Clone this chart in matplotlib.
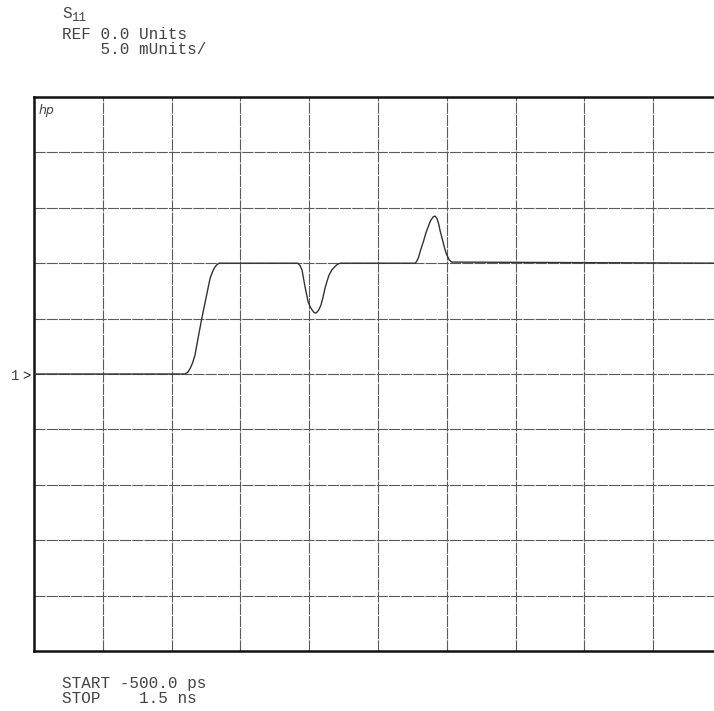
import matplotlib
matplotlib.use("Agg")
import matplotlib.pyplot as plt

# Trace: time (ps) and value (mUnits)
time_ps = [-500, -61, -53, -46, -39, -32, -23, -12, 0, 12, 20, 26, 32, 38, 267,
           273, 279, 288, 297, 303, 308, 314, 320, 327, 334, 340, 346, 352, 358,
           366, 375, 382, 390, 608, 612, 617, 624, 632, 639, 646, 653, 661, 666,
           671, 676, 680, 685, 690, 695, 700, 707, 714, 1500]
value_mu = [0.0, 0.0, 0.15, 0.5, 1.0, 1.7, 3.25, 5.05, 6.85, 8.65, 9.3, 9.65,
            9.88, 10.0, 10.0, 9.8, 9.4, 7.85, 6.5, 6.05, 5.8, 5.55, 5.5, 5.75,
            6.2, 6.9, 7.75, 8.4, 8.95, 9.4, 9.7, 9.9, 10.0, 10.0, 10.15, 10.45,
            11.2, 11.95, 12.7, 13.3, 13.85, 14.2, 14.25, 14.05, 13.6, 13.0, 12.4,
            11.8, 11.2, 10.75, 10.3, 10.1, 10.0]

start_ps = -500.0
stop_ps = 1500.0
ref_value = 0.0
scale_mu = 5.0
n_div = 10

header_lines = ["REF 0.0 Units", "    5.0 mUnits/"]
footer_lines = ["START -500.0 ps", "STOP    1.5 ns"]

W, H = 714, 711
fig = plt.figure(figsize=(W / 100, H / 100), dpi=100)
fig.patch.set_facecolor("white")

left, top, bottom = 34, 97, 651
right = 34 + 68.8 * n_div
ax = fig.add_axes([left / W, (H - bottom) / H, (right - left) / W, (bottom - top) / H])
ax.set_xlim(start_ps, stop_ps)
half = scale_mu * n_div / 2
ax.set_ylim(ref_value - half, ref_value + half)
ax.set_xticks([])
ax.set_yticks([])

step_x = (stop_ps - start_ps) / n_div
for i in range(1, n_div):
    ax.axvline(start_ps + i * step_x, color="#5a5a5a", lw=0.8, ls=(0, (10, 1.0)), zorder=1)
    ax.axhline(ref_value - half + i * scale_mu, color="#5a5a5a", lw=0.8, ls=(0, (10, 1.0)), zorder=1)

for side in ["left", "top", "bottom"]:
    ax.spines[side].set_linewidth(1.8)
    ax.spines[side].set_color("#111111")
ax.spines["right"].set_visible(False)

ax.plot(time_ps, value_mu, color="#333333", lw=1.0, zorder=3,
        solid_joinstyle="round", solid_capstyle="round")

mono = "Liberation Mono"
tc = "#444444"
fs = 11.5
fig.text(62 / W, 1 - 18 / H, "S", fontsize=fs, family=mono, color=tc)
fig.text(71 / W, 1 - 21 / H, "11", fontsize=9, family=mono, color=tc)
fig.text(62 / W, 1 - 39 / H, header_lines[0], fontsize=fs, family=mono, color=tc)
fig.text(62 / W, 1 - 54 / H, header_lines[1], fontsize=fs, family=mono, color=tc)
fig.text(62 / W, 1 - 688 / H, footer_lines[0], fontsize=fs, family=mono, color=tc)
fig.text(62 / W, 1 - 703 / H, footer_lines[1], fontsize=fs, family=mono, color=tc)

ax.text(0.006, 0.988, "hp", transform=ax.transAxes, fontsize=9, style="italic",
        family="DejaVu Sans", color=tc, va="top", ha="left")
fig.text(11 / W, 1 - 380 / H, "1", fontsize=10, family=mono, color=tc)
fig.text(22 / W, 1 - 380 / H, ">", fontsize=10, family=mono, color="#222222")

fig.savefig("out.png", dpi=100)
